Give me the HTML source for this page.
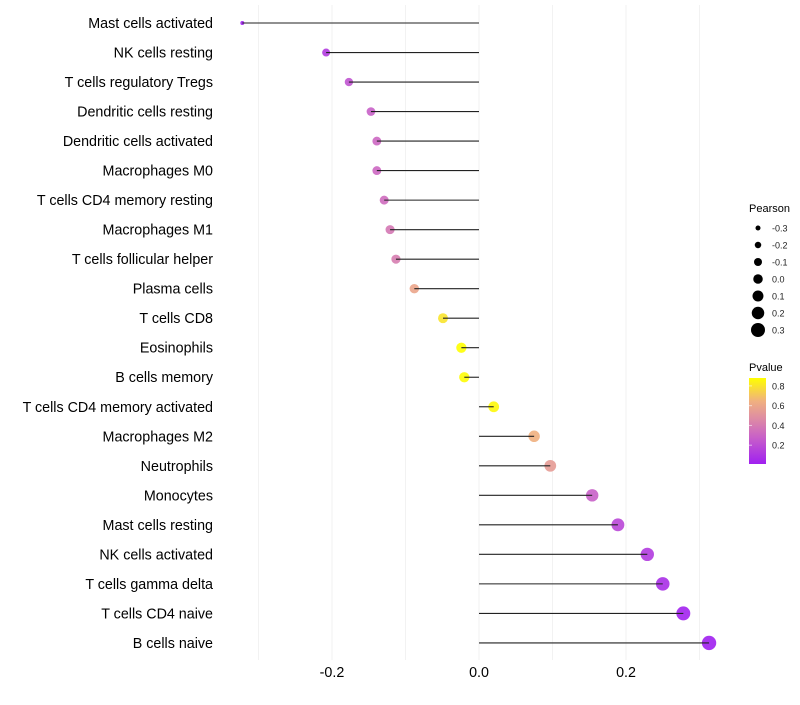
<!DOCTYPE html>
<html><head><meta charset="utf-8"><style>
body{margin:0;background:#fff;font-family:"Liberation Sans",sans-serif;}
svg text{font-family:"Liberation Sans",sans-serif;}
</style></head><body>
<svg id="chart" width="800" height="700" xmlns="http://www.w3.org/2000/svg">
<defs><linearGradient id="pg" x1="0" y1="1" x2="0" y2="0">
<stop offset="0" stop-color="#a020f0"/><stop offset="0.31" stop-color="#c860c8"/><stop offset="0.55" stop-color="#e090a0"/><stop offset="0.73" stop-color="#f0b080"/><stop offset="1" stop-color="#ffff00"/>
</linearGradient></defs>
<g id="grid"></g>
<g id="marks"></g>
<g id="ylabels"></g>
<g id="xlabels"></g>
<g>
<text x="749" y="212" font-size="11">Pearson</text>
<g id="sizeLeg"></g>
</g>
<g>
<text x="749" y="371" font-size="11">Pvalue</text>
<rect x="749" y="378" width="17" height="86" fill="url(#pg)"/>
<g id="colLeg"></g>
</g>
</svg>
<script>
const categories=["Mast cells activated","NK cells resting","T cells regulatory  Tregs","Dendritic cells resting","Dendritic cells activated","Macrophages M0","T cells CD4 memory resting","Macrophages M1","T cells follicular helper","Plasma cells","T cells CD8","Eosinophils","B cells memory","T cells CD4 memory activated","Macrophages M2","Neutrophils","Monocytes","Mast cells resting","NK cells activated","T cells gamma delta","T cells CD4 naive","B cells naive"];
const pearson=[-0.322,-0.208,-0.177,-0.147,-0.139,-0.139,-0.129,-0.121,-0.113,-0.088,-0.049,-0.024,-0.020,0.020,0.075,0.097,0.154,0.189,0.229,0.250,0.278,0.313];
const pvalue=[0.04,0.15,0.25,0.30,0.33,0.33,0.35,0.40,0.42,0.60,0.80,0.88,0.87,0.86,0.65,0.55,0.30,0.20,0.15,0.10,0.05,0.04];
const xTicks=[-0.2,0.0,0.2];
const xTickLabels=["-0.2","0.0","0.2"];
const gridVals=[-0.3,-0.2,-0.1,0,0.1,0.2,0.3];
const sizeLegVals=[-0.3,-0.2,-0.1,0.0,0.1,0.2,0.3];
const sizeLegLabels=["-0.3","-0.2","-0.1","0.0","0.1","0.2","0.3"];
const colLegVals=[0.2,0.4,0.6,0.8];
const colLegLabels=["0.2","0.4","0.6","0.8"];

const NS="http://www.w3.org/2000/svg";
function X(v){return 479+v*735;}
function Y(i){return 23+i*29.52;}
function R(v){return v<-0.3?2:4.0+(v+0.208)*6.1;}
function LR(v){return 2.5+(v+0.3)/0.6*4.5;}
function PY(p){return 461-(p-0.04)/0.84*83;}
const stops=[[0.04,[160,32,240]],[0.3,[200,96,200]],[0.5,[224,144,160]],[0.65,[240,176,128]],[0.88,[255,255,0]]];
function col(p){
 if(p<=stops[0][0])return "rgb("+stops[0][1]+")";
 for(let k=1;k<stops.length;k++){if(p<=stops[k][0]){const a=stops[k-1],b=stops[k];const t=(p-a[0])/(b[0]-a[0]);
 return "rgb("+a[1].map((c,j)=>Math.round(c+(b[1][j]-c)*t)).join(",")+")";}}
 return "rgb(255,255,0)";}
function mk(t,at,parent){const e=document.createElementNS(NS,t);for(const k in at)e.setAttribute(k,at[k]);parent.appendChild(e);return e;}
const grid=document.getElementById('grid'),marks=document.getElementById('marks'),yl=document.getElementById('ylabels'),xl=document.getElementById('xlabels');
gridVals.forEach(v=>{const l=mk('line',{x1:X(v),x2:X(v),y1:5,y2:660,stroke:'#f2f2f2','stroke-width':1},grid);

});
categories.forEach((c,i)=>{const y=Y(i),v=pearson[i];
 const ci=mk('circle',{cx:X(v),cy:y,r:R(v),fill:col(pvalue[i]),'fill-opacity':0.9},marks);
 
 
 const ln=mk('line',{x1:X(0),x2:X(v),y1:y,y2:y,stroke:'#222','stroke-width':1.1},marks);
 
 
 const t=mk('text',{x:213,y:y+5,'text-anchor':'end','font-size':14.3,fill:'#000'},yl);t.textContent=c;
 
 
});
xTicks.forEach((v,i)=>{const t=mk('text',{x:X(v),y:677,'text-anchor':'middle','font-size':14.3,fill:'#000'},xl);t.textContent=xTickLabels[i];
 
 });
const sl=document.getElementById('sizeLeg');
sizeLegVals.forEach((v,i)=>{const y=228+i*17;
 const c=mk('circle',{cx:758,cy:y,r:LR(v),fill:'#000'},sl);
 
 
 const t=mk('text',{x:772,y:y+3.5,'font-size':9,fill:'#222'},sl);t.textContent=sizeLegLabels[i];
 
 });
const cl=document.getElementById('colLeg');
colLegVals.forEach((v,i)=>{const y=PY(v);
 const l=mk('line',{x1:749,x2:752,y1:y,y2:y,stroke:'#fff','stroke-opacity':0.6},cl);
 
 
 const t=mk('text',{x:772,y:y+3.5,'font-size':9,fill:'#222'},cl);t.textContent=colLegLabels[i];
 
 });
</script>
</body></html>
